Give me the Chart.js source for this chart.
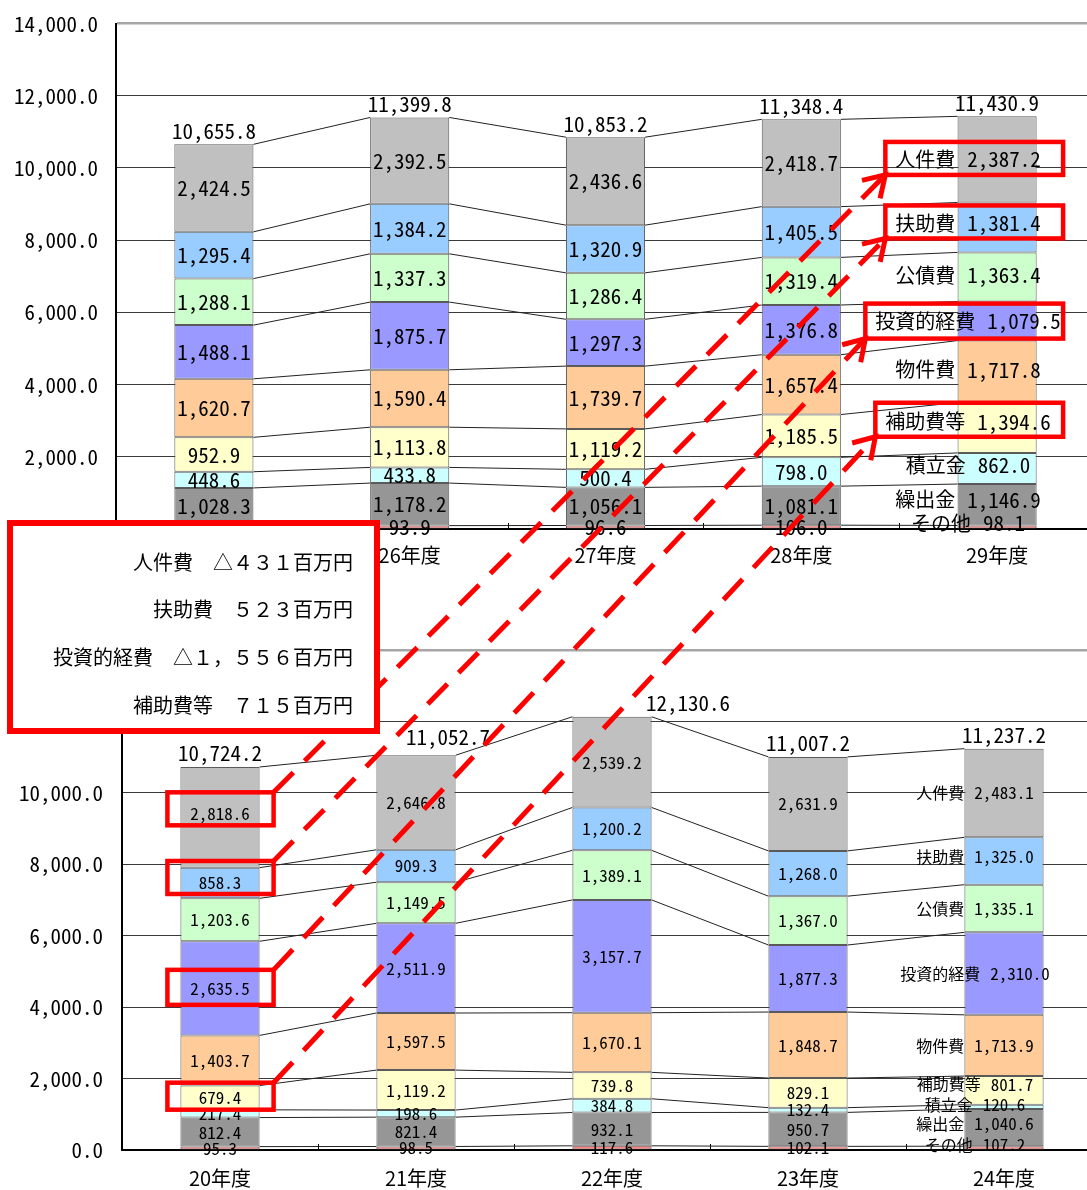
<!DOCTYPE html>
<html lang="ja">
<head>
<meta charset="utf-8">
<title>歳出（性質別）の推移</title>
<script src="https://cdn.jsdelivr.net/npm/chart.js@4.4.1/dist/chart.umd.min.js"></script>
<style>
  html, body { margin: 0; padding: 0; width: 1087px; height: 1190px; overflow: hidden; background: #fff; }
  canvas { position: absolute; left: 0; }
  #cTop { top: -7px; }
  #cBot { top: 590px; }
  #ov { top: 0; pointer-events: none; }
</style>
</head>
<body>
<canvas id="cTop" width="1095" height="597"></canvas>
<canvas id="cBot" width="1102" height="600"></canvas>
<canvas id="ov" width="1087" height="1190"></canvas>
<script>
// Series (bottom of stack first)
const seriesNames  = ['その他', '繰出金', '積立金', '補助費等', '物件費', '投資的経費', '公債費', '扶助費', '人件費'];
const seriesColors = ['#FF8080', '#969696', '#CCFFFF', '#FFFFCC', '#FFCC99', '#9999FF', '#CCFFCC', '#99CCFF', '#C0C0C0'];

// 25年度〜29年度
const recentYears     = ['25年度', '26年度', '27年度', '28年度', '29年度'];
const recentOther     = [109.2, 93.9, 96.6, 106.0, 98.1];
const recentTransfer  = [1028.3, 1178.2, 1056.1, 1081.1, 1146.9];
const recentReserve   = [448.6, 433.8, 500.4, 798.0, 862.0];
const recentSubsidy   = [952.9, 1113.8, 1119.2, 1185.5, 1394.6];
const recentGoods     = [1620.7, 1590.4, 1739.7, 1657.4, 1717.8];
const recentInvest    = [1488.1, 1875.7, 1297.3, 1376.8, 1079.5];
const recentDebt      = [1288.1, 1337.3, 1286.4, 1319.4, 1363.4];
const recentWelfare   = [1295.4, 1384.2, 1320.9, 1405.5, 1381.4];
const recentPersonnel = [2424.5, 2392.5, 2436.6, 2418.7, 2387.2];

// 20年度〜24年度
const pastYears     = ['20年度', '21年度', '22年度', '23年度', '24年度'];
const pastOther     = [95.3, 98.5, 117.6, 102.1, 107.2];
const pastTransfer  = [812.4, 821.4, 932.1, 950.7, 1040.6];
const pastReserve   = [217.4, 198.6, 384.8, 132.4, 120.6];
const pastSubsidy   = [679.4, 1119.2, 739.8, 829.1, 801.7];
const pastGoods     = [1403.7, 1597.5, 1670.1, 1848.7, 1713.9];
const pastInvest    = [2635.5, 2511.9, 3157.7, 1877.3, 2310.0];
const pastDebt      = [1203.6, 1149.5, 1389.1, 1367.0, 1335.1];
const pastWelfare   = [858.3, 909.3, 1200.2, 1268.0, 1325.0];
const pastPersonnel = [2818.6, 2646.8, 2539.2, 2631.9, 2483.1];

// Axis range
const yMin = 0, yMax = 14000, yStep = 2000;

// Change summary (20年度 → 29年度)
const noteLines = ['人件費　△４３１百万円', '扶助費　５２３百万円', '投資的経費　△１，５５６百万円', '補助費等　７１５百万円'];
const highlighted = ['人件費', '扶助費', '投資的経費', '補助費等'];

const numFont = "'Noto Sans Mono CJK JP', 'DejaVu Sans Mono', monospace";
const jpFont  = "'Noto Sans CJK JP', 'Noto Sans Mono CJK JP', sans-serif";
const fmt = v => v.toLocaleString('en-US', { minimumFractionDigits: 1, maximumFractionDigits: 1 });

function buildDatasets(series) {
  return series.map((data, i) => ({
    label: seriesNames[i],
    data,
    backgroundColor: seriesColors[i],
    borderColor: '#5a5a5a',
    borderWidth: 1,
    borderSkipped: false,
    barPercentage: 0.404,
    categoryPercentage: 1
  }));
}

// Series lines, segment values, totals and axis tick marks
const barDecor = {
  id: 'barDecor',
  afterDatasetsDraw(chart, args, o) {
    const ctx = chart.ctx;
    const metas = chart.data.datasets.map((d, i) => chart.getDatasetMeta(i));
    const n = chart.data.labels.length;
    const xs = chart.scales.x;
    const area = chart.chartArea;
    ctx.save();

    ctx.strokeStyle = '#000';
    ctx.lineWidth = 1;
    for (let j = 1; j < n; j++) {
      const bx = Math.round((xs.getPixelForValue(j - 1) + xs.getPixelForValue(j)) / 2) + 0.5;
      ctx.beginPath(); ctx.moveTo(bx, area.bottom); ctx.lineTo(bx, area.bottom - 6); ctx.stroke();
    }

    ctx.strokeStyle = '#222';
    metas.forEach(m => {
      for (let j = 0; j < n - 1; j++) {
        const a = m.data[j], b = m.data[j + 1];
        ctx.beginPath();
        ctx.moveTo(a.x + a.width / 2, a.y);
        ctx.lineTo(b.x - b.width / 2, b.y);
        ctx.stroke();
      }
    });

    ctx.textBaseline = 'middle';
    ctx.fillStyle = '#000';
    chart.$labelGeom = {};
    metas.forEach((m, i) => {
      m.data.forEach((el, j) => {
        const v = chart.data.datasets[i].data[j];
        const mid = (el.y + el.base) / 2;
        const txt = fmt(v);
        if (j === n - 1) {
          // last year: "name value", centred a little left of the bar
          const cy = mid + o.lastNudge[i];
          ctx.font = o.lastNumSize + 'px ' + numFont;
          const w = ctx.measureText(txt).width;
          ctx.font = o.nameSize + 'px ' + jpFont;
          const nw = ctx.measureText(seriesNames[i]).width;
          const left = el.x + o.lastCenter - (nw + o.nameGap + w) / 2;
          ctx.textAlign = 'left';
          ctx.fillText(seriesNames[i], left, cy);
          ctx.font = o.lastNumSize + 'px ' + numFont;
          ctx.fillText(txt, left + nw + o.nameGap, cy);
          chart.$labelGeom['last' + i] = { left, cx: el.x, y: cy };
        } else {
          const cy = mid + (j === 0 ? o.firstNudge[i] : 0);
          ctx.font = o.numSize + 'px ' + numFont;
          ctx.textAlign = 'center';
          ctx.fillText(txt, el.x, cy);
          if (j === 0) chart.$labelGeom['first' + i] = { y: cy, barL: el.x - el.width / 2, barR: el.x + el.width / 2 };
        }
      });
    });

    ctx.font = o.totalSize + 'px ' + numFont;
    ctx.textAlign = 'center';
    const topMeta = metas[metas.length - 1];
    for (let j = 0; j < n; j++) {
      const el = topMeta.data[j];
      let total = 0;
      chart.data.datasets.forEach(d => { total += d.data[j]; });
      const sh = o.totalShift[j];
      ctx.fillText(fmt(Math.round(total * 10) / 10), el.x + sh[0], el.y - sh[1]);
    }
    ctx.restore();
  }
};

function makeChart(id, labels, series, L) {
  return new Chart(document.getElementById(id), {
    type: 'bar',
    data: { labels, datasets: buildDatasets(series) },
    plugins: [barDecor],
    options: {
      responsive: false,
      animation: false,
      devicePixelRatio: 1,
      layout: { padding: { top: L.padTop, left: 0, right: 0, bottom: 0 } },
      plugins: {
        legend: { display: false },
        tooltip: { enabled: false },
        barDecor: L.decor
      },
      scales: {
        x: {
          stacked: true,
          grid: { display: true, drawOnChartArea: false, drawTicks: false },
          border: { display: true, color: '#000', width: 2 },
          ticks: { padding: L.xPad, color: '#000', font: { family: jpFont, size: 20 } },
          afterFit(s) { s.height = L.xH; }
        },
        y: {
          stacked: true,
          min: yMin, max: yMax,
          ticks: {
            stepSize: yStep, padding: L.yPad, color: '#000',
            font: { family: numFont, size: 21 },
            callback: v => fmt(v)
          },
          grid: {
            drawTicks: false,
            color: c => (c.tick && c.tick.value === yMax) ? '#a6a6a6' : '#3a3a3a',
            lineWidth: c => (c.tick && c.tick.value === yMax) ? 2.5 : 1
          },
          border: { display: true, color: '#000', width: 2 },
          afterFit(s) { s.width = L.yW; }
        }
      }
    }
  });
}

const chartTop = makeChart('cTop', recentYears,
  [recentOther, recentTransfer, recentReserve, recentSubsidy, recentGoods, recentInvest, recentDebt, recentWelfare, recentPersonnel],
  { padTop: 19, xH: 61, xPad: 14, yPad: 18, yW: 116,
    decor: { numSize: 21, totalSize: 21, lastNumSize: 21, nameSize: 20, lastCenter: -29, nameGap: 12,
             firstNudge: [0, 0, 0, 0, 0, 0, 0, 0, 0],
             lastNudge: [-4, -5, -3, -6, -2, 0, -2, -4, 0],
             totalShift: [[0, 13], [0, 13], [0, 13], [0, 13], [0, 13]] } });

const chartBot = makeChart('cBot', pastYears,
  [pastOther, pastTransfer, pastReserve, pastSubsidy, pastGoods, pastInvest, pastDebt, pastWelfare, pastPersonnel],
  { padTop: 60, xH: 40, xPad: 16, yPad: 19, yW: 122,
    decor: { numSize: 17, totalSize: 21, lastNumSize: 17, nameSize: 16, lastCenter: -29, nameGap: 10,
             firstNudge: [0, 0, 0, 0, 0, 0, 0, 0, -4],
             lastNudge: [-3, -4, -2, -6, 0, 0, 0, -4, 0],
             totalShift: [[0, 14], [32, 18], [76, 14], [0, 14], [0, 14]] } });

// Callout boxes, arrows and the change summary
(function drawOverlay() {
  const ctx = document.getElementById('ov').getContext('2d');
  const topOffset = -7, botOffset = 590;
  const gT = chartTop.$labelGeom, gB = chartBot.$labelGeom;
  const topBox = [{ dy: -1, h: 33 }, { dy: -1.5, h: 33 }, { dy: 0, h: 35 }, { dy: -2, h: 34 }];
  const botBox = [{ dy: -4.5, h: 33 }, { dy: -5.5, h: 33 }, { dy: -1, h: 35 }, { dy: -1.5, h: 27 }];
  const red = '#FF0000';

  const pairs = highlighted.map((name, k) => {
    const si = seriesNames.indexOf(name);
    const t = gT['last' + si];
    const b = gB['first' + si];
    const tc = t.y + topOffset + topBox[k].dy, th = topBox[k].h;
    const top = { l: t.left - 10, r: t.cx + 66, t: tc - th / 2, b: tc + th / 2 };
    const bc = b.y + botOffset + botBox[k].dy, bh = botBox[k].h;
    const bot = { l: b.barL - 13, r: b.barR + 14, t: bc - bh / 2, b: bc + bh / 2 };
    return { top, bot };
  });

  ctx.strokeStyle = red;
  ctx.lineJoin = 'miter';
  pairs.forEach(p => {
    ctx.lineWidth = 4.5;
    ctx.strokeRect(p.top.l, p.top.t, p.top.r - p.top.l, p.top.b - p.top.t);
    ctx.strokeRect(p.bot.l, p.bot.t, p.bot.r - p.bot.l, p.bot.b - p.bot.t);
  });

  pairs.forEach(p => {
    const sx = p.bot.r, sy = p.bot.t;
    const ex = p.top.l, ey = p.top.b;
    ctx.lineWidth = 5;
    ctx.setLineDash([28, 16]);
    ctx.beginPath(); ctx.moveTo(sx, sy); ctx.lineTo(ex, ey); ctx.stroke();
    ctx.setLineDash([]);
    const ang = Math.atan2(sy - ey, sx - ex);
    const len = 24, spread = 32 * Math.PI / 180;
    ctx.beginPath();
    ctx.moveTo(ex + len * Math.cos(ang + spread), ey + len * Math.sin(ang + spread));
    ctx.lineTo(ex, ey);
    ctx.lineTo(ex + len * Math.cos(ang - spread), ey + len * Math.sin(ang - spread));
    ctx.stroke();
  });

  // summary box
  ctx.fillStyle = '#fff';
  ctx.fillRect(10, 523, 367, 208);
  ctx.lineWidth = 6;
  ctx.strokeStyle = red;
  ctx.strokeRect(10, 523, 367, 208);
  ctx.fillStyle = '#000';
  ctx.font = '20px ' + jpFont;
  ctx.textAlign = 'right';
  ctx.textBaseline = 'middle';
  noteLines.forEach((s, i) => ctx.fillText(s, 353, 562 + i * 47.7));
})();
</script>
</body>
</html>
